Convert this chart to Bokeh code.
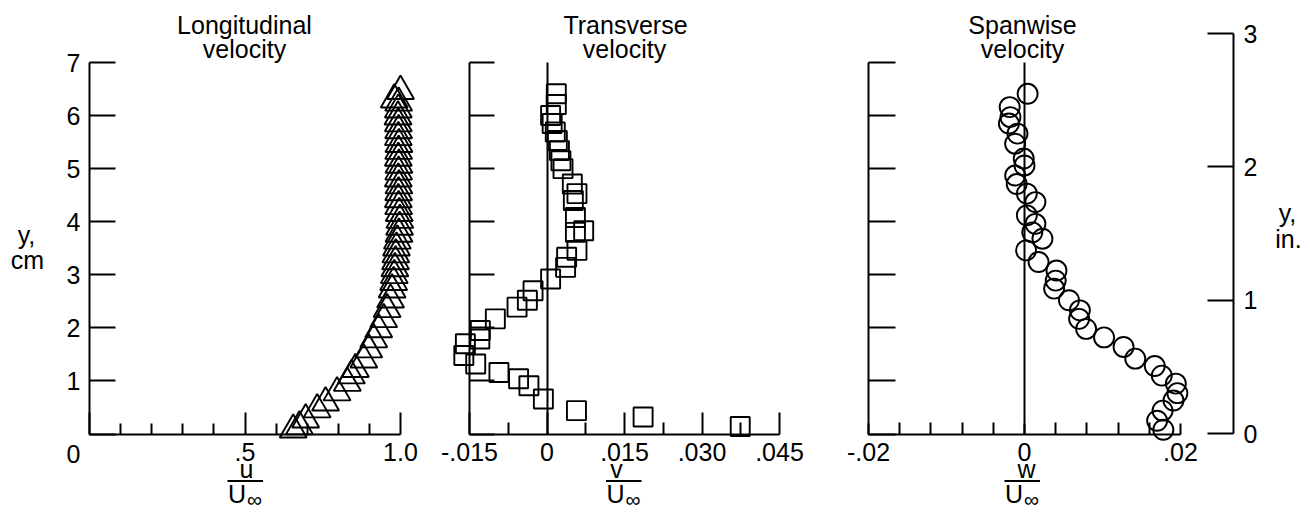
from bokeh.plotting import figure
from bokeh.models import Range1d, LinearAxis, FixedTicker, Label, BoxAnnotation
from bokeh.embed import file_html
from bokeh.resources import INLINE

# ---------------- data ----------------
# Longitudinal velocity u/Uinf vs y (cm)
y_u = [0.08, 0.14, 0.27, 0.46, 0.59, 0.78, 0.96, 1.10, 1.22, 1.40, 1.59, 1.78,
       1.97, 2.16, 2.35, 2.53, 2.72, 2.86, 2.99, 3.12, 3.25, 3.38, 3.51, 3.64,
       3.77, 3.90, 4.03, 4.16, 4.29, 4.42, 4.55, 4.68, 4.81, 4.94, 5.07, 5.20,
       5.33, 5.46, 5.59, 5.72, 5.85, 5.98, 6.11, 6.24, 6.30, 6.46]
u = [0.655, 0.675, 0.695, 0.732, 0.759, 0.796, 0.829, 0.842, 0.855, 0.882, 0.898, 0.914,
     0.930, 0.946, 0.957, 0.968, 0.973, 0.978, 0.980, 0.982, 0.984, 0.985, 0.987, 0.990,
     0.995, 0.997, 0.998, 0.996, 0.994, 0.993, 0.994, 0.995, 0.993, 0.994, 0.995, 0.993,
     0.994, 0.995, 0.993, 0.994, 0.993, 0.992, 0.993, 0.994, 0.980, 1.000]

# Transverse velocity v/Uinf vs y (cm)
y_v = [6.41, 6.21, 6.00, 5.85, 5.69, 5.53, 5.34, 5.15, 5.00, 4.71, 4.53, 4.40,
       4.08, 3.83, 3.80, 3.46, 3.33, 3.14, 2.92, 2.70, 2.52, 2.39, 2.17, 1.95,
       1.79, 1.70, 1.48, 1.32, 1.16, 1.04, 0.91, 0.66, 0.44, 0.32, 0.14]
v = [0.0018, 0.0018, 0.0007, 0.0010, 0.0016, 0.0020, 0.0024, 0.0027, 0.0031, 0.0049, 0.0058, 0.0051,
     0.0055, 0.0071, 0.0055, 0.0058, 0.0038, 0.0036, 0.0007, -0.0027, -0.0038, -0.0058, -0.0100, -0.0129,
     -0.0130, -0.0158, -0.0161, -0.0138, -0.0093, -0.0055, -0.0035, -0.0007, 0.0057, 0.0186, 0.0374]

# Spanwise velocity w/Uinf vs y (cm)
y_w = [6.41, 6.16, 5.97, 5.85, 5.66, 5.47, 5.19, 5.06, 4.87, 4.71, 4.53, 4.37,
       4.12, 3.96, 3.80, 3.68, 3.46, 3.24, 3.08, 2.89, 2.74, 2.52, 2.33, 2.17,
       1.98, 1.82, 1.64, 1.42, 1.28, 1.10, 0.95, 0.77, 0.63, 0.44, 0.25, 0.08]
w = [0.0004, -0.0019, -0.0018, -0.0020, -0.0009, -0.0012, -0.0001, 0.0000, -0.0012, -0.0010, 0.0003, 0.0014,
     0.0003, 0.0014, 0.0010, 0.0023, 0.0002, 0.0018, 0.0041, 0.0040, 0.0038, 0.0057, 0.0071, 0.0070,
     0.0079, 0.0102, 0.0127, 0.0142, 0.0167, 0.0176, 0.0194, 0.0196, 0.0191, 0.0177, 0.0170, 0.0178]

# ticks
cm_ticks = [0, 1, 2, 3, 4, 5, 6, 7]
in_ticks = [0, 1, 2, 3]
u_major = [0, 0.5, 1.0]
u_minor = [0.1, 0.2, 0.3, 0.4, 0.6, 0.7, 0.8, 0.9]
u_labels = {0: "", 0.5: ".5", 1.0: "1.0"}
v_major = [-0.015, 0, 0.015, 0.03, 0.045]
v_minor = [-0.0075, 0.0075, 0.0225, 0.0375]
v_labels = {-0.015: "-.015", 0: "0", 0.015: ".015", 0.03: ".030", 0.045: ".045"}
w_major = [-0.02, 0, 0.02]
w_minor = [-0.016, -0.012, -0.008, -0.004, 0.004, 0.008, 0.012, 0.016]
w_labels = {-0.02: "-.02", 0: "0", 0.02: ".02"}

# ---------------- layout ----------------
W, H = 1302, 515
OX, OY = 0, 0
FONT = "Liberation Sans"
FS = "25px"
TB = 9  # baseline correction for Label text (px)


def xr(v0, p0, v1, p1):
    c0, c1 = p0 - OX, p1 - OX
    k = (v1 - v0) / (c1 - c0)
    return Range1d(v0 - c0 * k, v0 + (W - c0) * k)


def yr(v0, p0, v1, p1):
    c0, c1 = OY + H - p0, OY + H - p1
    k = (v1 - v0) / (c1 - c0)
    return Range1d(v0 - c0 * k, v0 + (H - c0) * k)


r1 = xr(0, 89, 1.0, 400)
r2 = xr(-0.015, 469, 0.045, 779)
r3 = xr(-0.02, 868, 0.02, 1180)
rcm = yr(0, 433.5, 7, 62)
rin = yr(0, 433, 3, 33)


def px(rng, page_x):
    return rng.start + (page_x - OX) * (rng.end - rng.start) / W


def py(page_y):
    return rcm.start + (OY + H - page_y) * (rcm.end - rcm.start) / H


p = figure(width=W, height=H, x_range=r1, y_range=rcm, x_axis_type=None, y_axis_type=None,
           min_border=0, toolbar_location=None, output_backend="svg")
p.extra_x_ranges = {"p2": r2, "p3": r3}
p.extra_y_ranges = {"in": rin}
p.outline_line_color = None
p.background_fill_color = "white"


def add_axis(side, loc, bounds, ticks, minor, labels, tick_in, minor_in,
             xname="default", yname="default", standoff=9):
    ax = LinearAxis(fixed_location=loc, bounds=bounds,
                    ticker=FixedTicker(ticks=ticks, minor_ticks=minor),
                    x_range_name=xname, y_range_name=yname,
                    major_tick_in=tick_in, major_tick_out=0,
                    minor_tick_in=minor_in, minor_tick_out=0,
                    axis_line_width=2, major_tick_line_width=2, minor_tick_line_width=2,
                    axis_line_color="black", major_tick_line_color="black",
                    minor_tick_line_color="black",
                    major_label_standoff=standoff,
                    major_label_text_font=FONT, major_label_text_font_size=FS,
                    major_label_text_color="black",
                    major_label_overrides=labels)
    p.add_layout(ax, side)


blank_cm = {t: "" for t in cm_ticks}
cm_lab = {t: ("" if t == 0 else str(t)) for t in cm_ticks}

# panel 1
add_axis("left", 0, (0, 7), cm_ticks, [], cm_lab, 26, 0, standoff=9)
add_axis("below", 0, (0, 1.0), u_major, u_minor, u_labels, 22, 11)
# panel 2
add_axis("left", -0.015, (0, 7), cm_ticks, [], blank_cm, 25, 0, xname="p2")
add_axis("left", 0, (0, 7), [], [], {}, 0, 0, xname="p2")
add_axis("below", 0, (-0.015, 0.045), v_major, v_minor, v_labels, 22, 12, xname="p2")
# panel 3
add_axis("left", -0.02, (0, 7), cm_ticks, [], blank_cm, 27, 0, xname="p3")
add_axis("left", 0, (0, 7), [], [], {}, 0, 0, xname="p3")
add_axis("below", 0, (-0.02, 0.02), w_major, w_minor, w_labels, 11, 12, xname="p3")
add_axis("right", px(r3, 1233), (0, 3), in_ticks, [], {t: str(t) for t in in_ticks}, 26, 0,
         xname="p3", yname="in", standoff=10)

# markers
p.scatter(u, y_u, marker="triangle", size=27, fill_color=None, line_color="black", line_width=1.9)
p.scatter(v, y_v, marker="square", size=19, fill_color=None, line_color="black", line_width=1.9,
          x_range_name="p2")
p.scatter(w, y_w, marker="circle", size=20, fill_color=None, line_color="black", line_width=1.9,
          x_range_name="p3")


def txt(text, page_x, page_y, rng, xname="default", size=FS, align="center"):
    p.add_layout(Label(x=px(rng, page_x), y=py(page_y - TB), x_range_name=xname, text=text,
                       text_font=FONT, text_font_size=size, text_align=align,
                       text_baseline="alphabetic", text_color="black"))


def bar(x0, x1, page_y, rng, xname="default"):
    p.add_layout(BoxAnnotation(left=px(rng, x0), right=px(rng, x1),
                               top=py(page_y - 1), bottom=py(page_y + 1),
                               x_range_name=xname, fill_color="black", fill_alpha=1,
                               line_color=None))


# titles
txt("Longitudinal", 244, 33, r1)
txt("velocity", 244, 57, r1)
txt("Transverse", 625, 33, r2, "p2")
txt("velocity", 624, 57, r2, "p2")
txt("Spanwise", 1022, 33, r3, "p3")
txt("velocity", 1022, 57, r3, "p3")

# y labels
txt("y,", 26, 243, r1)
txt("cm", 27, 268, r1)
txt("y,", 1287, 221, r3, "p3")
txt("in.", 1288, 247, r3, "p3")

# origin label of panel 1
txt("0", 80, 462, r1, align="right")

# fraction labels
for (cx, nx, num, rng, nm) in [(244.5, 246, "u", r1, "default"),
                              (623, 616, "v", r2, "p2"),
                              (1021.5, 1026, "w", r3, "p3")]:
    txt(num, nx, 477, rng, nm)
    bar(cx - 17.5, cx + 18, 480.5, rng, nm)
    txt("U", cx + 1, 502, rng, nm, align="right")
    txt("\u221e", cx + 2, 508, rng, nm, size="21px", align="left")

open("out.html", "w").write(file_html(p, INLINE))
